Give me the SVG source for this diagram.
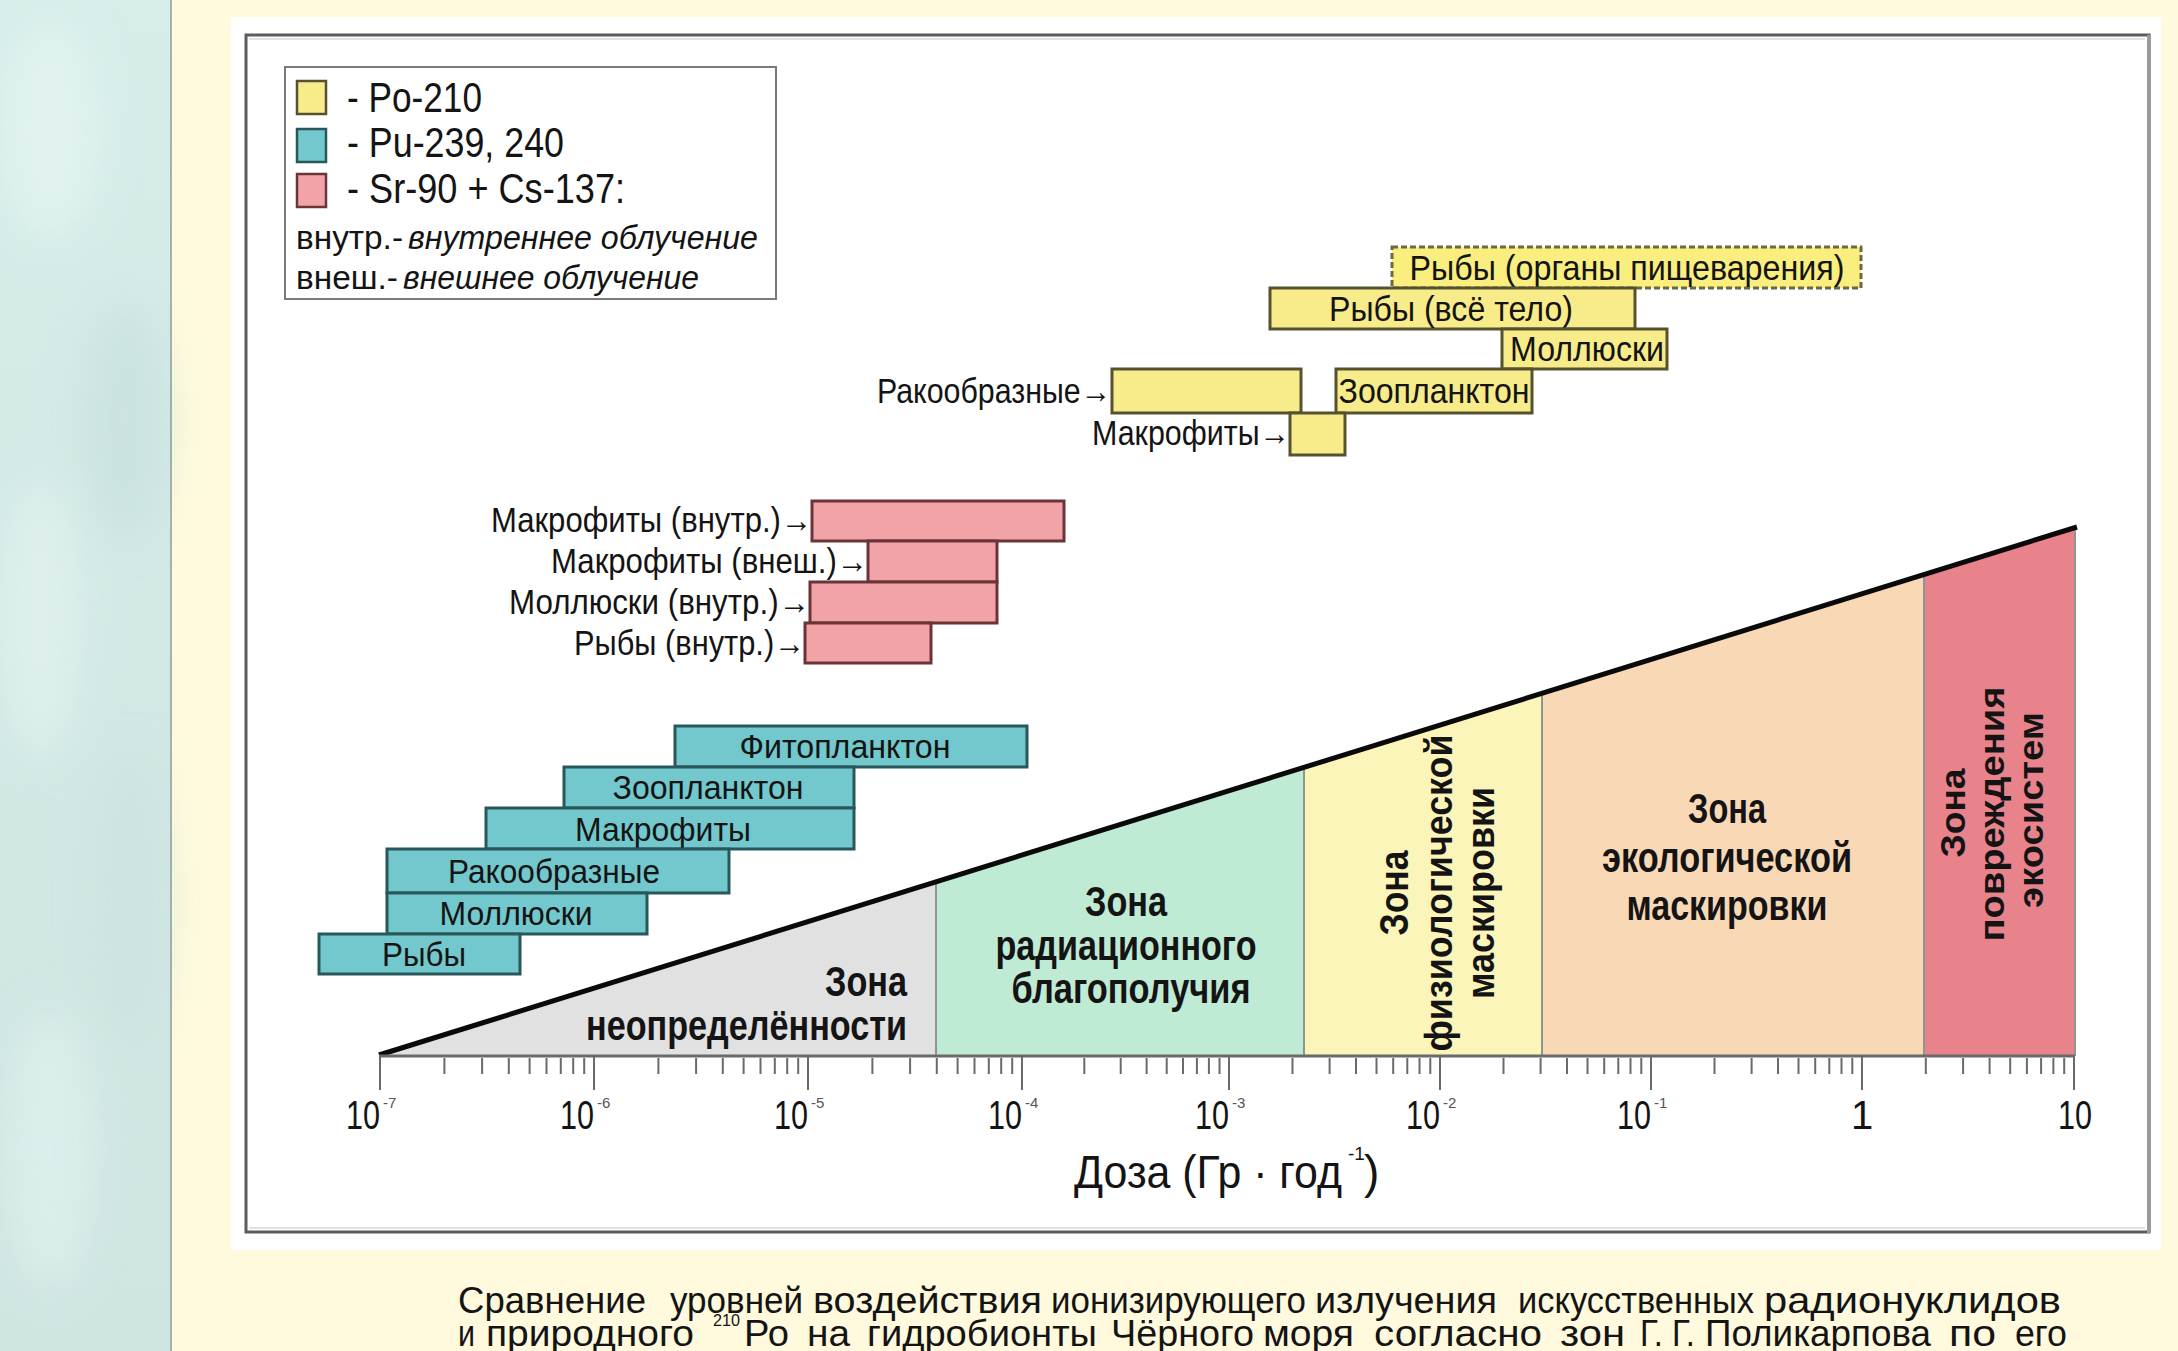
<svg xmlns="http://www.w3.org/2000/svg" width="2178" height="1351" viewBox="0 0 2178 1351">
<defs>
<style>
.t{font-family:"Liberation Sans",Arial,sans-serif;fill:#141414}
.b{font-weight:bold}
.i{font-style:italic}
.ybar{fill:#f8ec8a;stroke:#56522f;stroke-width:3}
.pbar{fill:#f1a3a8;stroke:#6c3436;stroke-width:3}
.cbar{fill:#72c8cd;stroke:#28585b;stroke-width:3}
.sep{stroke:#8f968f;stroke-width:2}
.tick{stroke:#6a6a6a;stroke-width:2;fill:none}
</style>
<linearGradient id="lp" x1="0" y1="0" x2="0" y2="1">
<stop offset="0" stop-color="#d6edea"/>
<stop offset="0.5" stop-color="#d1e8e5"/>
<stop offset="1" stop-color="#cfe5e2"/>
</linearGradient>
<filter id="blur" x="-50%" y="-50%" width="200%" height="200%"><feGaussianBlur stdDeviation="20"/></filter>
</defs>

<!-- background -->
<rect x="0" y="0" width="2178" height="1351" fill="#fffadd"/>
<g id="side-panel">
<rect x="0" y="0" width="171" height="1351" fill="url(#lp)"/>
<g filter="url(#blur)" opacity="0.7">
<ellipse cx="50" cy="130" rx="50" ry="110" fill="#e6f5f3"/>
<ellipse cx="125" cy="420" rx="40" ry="120" fill="#c8e0dd"/>
<ellipse cx="40" cy="620" rx="40" ry="140" fill="#e4f3f1"/>
<ellipse cx="130" cy="900" rx="35" ry="150" fill="#cae2df"/>
<ellipse cx="50" cy="1150" rx="45" ry="140" fill="#e0f1ef"/>
</g>
<line x1="171" y1="0" x2="171" y2="1351" stroke="#8c9c9a" stroke-width="1.5"/>
</g>

<!-- white frame and chart border -->
<rect x="231" y="17" width="1930" height="1233" fill="#ffffff"/>
<rect x="246" y="35" width="1903" height="1197" fill="#ffffff" stroke="#5c5c5c" stroke-width="3"/>
<path d="M249 39 H2145 M249 1228 H2145" stroke="#e2e2e2" stroke-width="2" fill="none"/>
<line x1="2149" y1="35" x2="2149" y2="1233" stroke="#9a9a9a" stroke-width="4"/>

<!-- legend -->
<g id="legend">
<rect x="285" y="67" width="491" height="232" fill="#ffffff" stroke="#7a7a7a" stroke-width="2"/>
<rect x="297" y="81" width="29" height="33" fill="#f8ec8a" stroke="#56522f" stroke-width="2.5"/>
<rect x="297" y="129" width="29" height="33" fill="#72c8cd" stroke="#28585b" stroke-width="2.5"/>
<rect x="297" y="174" width="29" height="33" fill="#f1a3a8" stroke="#6c3436" stroke-width="2.5"/>
<text class="t" x="347" y="112" font-size="43" textLength="135" lengthAdjust="spacingAndGlyphs">- Po-210</text>
<text class="t" x="347" y="157" font-size="43" textLength="217" lengthAdjust="spacingAndGlyphs">- Pu-239, 240</text>
<text class="t" x="347" y="203" font-size="43" textLength="278" lengthAdjust="spacingAndGlyphs">- Sr-90 + Cs-137:</text>
<text class="t" x="296" y="249" font-size="33" textLength="107" lengthAdjust="spacingAndGlyphs">внутр.-</text>
<text class="t i" x="408" y="249" font-size="33" textLength="350" lengthAdjust="spacingAndGlyphs">внутреннее облучение</text>
<text class="t" x="296" y="289" font-size="33" textLength="102" lengthAdjust="spacingAndGlyphs">внеш.-</text>
<text class="t i" x="403" y="289" font-size="33" textLength="296" lengthAdjust="spacingAndGlyphs">внешнее облучение</text>
</g>

<!-- zones -->
<g id="zones">
<polygon points="380,1056 936,883 936,1056" fill="#e1e1e1"/>
<polygon points="936,883 1304,768 1304,1056 936,1056" fill="#bfead4"/>
<polygon points="1304,768 1542,694 1542,1056 1304,1056" fill="#fbf5b9"/>
<polygon points="1542,694 1924,575 1924,1056 1542,1056" fill="#f9d8b6"/>
<polygon points="1924,575 2075,528 2075,1056 1924,1056" fill="#e8838c"/>
<line class="sep" x1="936" y1="883" x2="936" y2="1056"/>
<line class="sep" x1="1304" y1="768" x2="1304" y2="1056"/>
<line class="sep" x1="1542" y1="694" x2="1542" y2="1056"/>
<line class="sep" x1="1924" y1="575" x2="1924" y2="1056"/>
<line class="sep" x1="2075" y1="528" x2="2075" y2="1056"/>
<line x1="379" y1="1055" x2="2077" y2="527" stroke="#0a0a0a" stroke-width="5"/>
</g>

<g id="zone-uncertainty">
<text class="t b" x="907" y="996" font-size="42" text-anchor="end" textLength="82" lengthAdjust="spacingAndGlyphs">Зона</text>
<text class="t b" x="907" y="1040" font-size="42" text-anchor="end" textLength="321" lengthAdjust="spacingAndGlyphs">неопределённости</text>
</g>
<g id="zone-wellbeing">
<text class="t b" x="1126" y="916" font-size="42" text-anchor="middle" textLength="82" lengthAdjust="spacingAndGlyphs">Зона</text>
<text class="t b" x="1126" y="960" font-size="42" text-anchor="middle" textLength="261" lengthAdjust="spacingAndGlyphs">радиационного</text>
<text class="t b" x="1131" y="1003" font-size="42" text-anchor="middle" textLength="239" lengthAdjust="spacingAndGlyphs">благополучия</text>
</g>
<g id="zone-physiological">
<text class="t b" transform="translate(1408,893) rotate(-90)" x="0" y="0" font-size="41" text-anchor="middle" textLength="85" lengthAdjust="spacingAndGlyphs">Зона</text>
<text class="t b" transform="translate(1452,893) rotate(-90)" x="0" y="0" font-size="39" text-anchor="middle" textLength="317" lengthAdjust="spacingAndGlyphs">физиологической</text>
<text class="t b" transform="translate(1494,893) rotate(-90)" x="0" y="0" font-size="39" text-anchor="middle" textLength="212" lengthAdjust="spacingAndGlyphs">маскировки</text>
</g>
<g id="zone-ecological">
<text class="t b" x="1727" y="823" font-size="42" text-anchor="middle" textLength="78" lengthAdjust="spacingAndGlyphs">Зона</text>
<text class="t b" x="1727" y="872" font-size="42" text-anchor="middle" textLength="250" lengthAdjust="spacingAndGlyphs">экологической</text>
<text class="t b" x="1727" y="920" font-size="42" text-anchor="middle" textLength="201" lengthAdjust="spacingAndGlyphs">маскировки</text>
</g>
<g id="zone-damage">
<text class="t b" transform="translate(1965,813) rotate(-90)" x="0" y="0" font-size="35" text-anchor="middle" textLength="89" lengthAdjust="spacingAndGlyphs">Зона</text>
<text class="t b" transform="translate(2004,814) rotate(-90)" x="0" y="0" font-size="35" text-anchor="middle" textLength="255" lengthAdjust="spacingAndGlyphs">повреждения</text>
<text class="t b" transform="translate(2043,810) rotate(-90)" x="0" y="0" font-size="35" text-anchor="middle" textLength="196" lengthAdjust="spacingAndGlyphs">экосистем</text>
</g>

<!-- axis -->
<g id="axis">
<line x1="379" y1="1056" x2="2075" y2="1056" stroke="#6a6a6a" stroke-width="3"/>
<path class="tick" d="M380 1056V1090M594 1056V1090M808 1056V1090M1022 1056V1090M1229 1056V1090M1440 1056V1090M1651 1056V1090M1862 1056V1090M2074 1056V1090"/>
<path class="tick" d="M444.4 1058V1074M482.1 1058V1074M508.8 1058V1074M529.6 1058V1074M546.5 1058V1074M560.8 1058V1074M573.2 1058V1074M584.2 1058V1074
M658.4 1058V1074M696.1 1058V1074M722.8 1058V1074M743.6 1058V1074M760.5 1058V1074M774.8 1058V1074M787.2 1058V1074M798.2 1058V1074
M872.4 1058V1074M910.1 1058V1074M936.8 1058V1074M957.6 1058V1074M974.5 1058V1074M988.8 1058V1074M1001.2 1058V1074M1012.2 1058V1074
M1084.3 1058V1074M1120.7 1058V1074M1146.6 1058V1074M1166.7 1058V1074M1183 1058V1074M1196.9 1058V1074M1208.9 1058V1074M1219.5 1058V1074
M1292.5 1058V1074M1329.6 1058V1074M1356 1058V1074M1376.5 1058V1074M1393.2 1058V1074M1407.3 1058V1074M1419.5 1058V1074M1430.3 1058V1074
M1503.5 1058V1074M1540.6 1058V1074M1567 1058V1074M1587.5 1058V1074M1604.2 1058V1074M1618.3 1058V1074M1630.5 1058V1074M1641.3 1058V1074
M1714.5 1058V1074M1751.6 1058V1074M1778 1058V1074M1798.5 1058V1074M1815.2 1058V1074M1829.3 1058V1074M1841.5 1058V1074M1852.3 1058V1074
M1925.8 1058V1074M1963.1 1058V1074M1989.6 1058V1074M2010.2 1058V1074M2026.9 1058V1074M2041.1 1058V1074M2053.4 1058V1074M2064.2 1058V1074"/>
<g class="t" font-size="40">
<text x="380" y="1129" text-anchor="end" textLength="34" lengthAdjust="spacingAndGlyphs">10</text><text x="383" y="1108" font-size="15" fill="#555">-7</text>
<text x="594" y="1129" text-anchor="end" textLength="34" lengthAdjust="spacingAndGlyphs">10</text><text x="597" y="1108" font-size="15" fill="#555">-6</text>
<text x="808" y="1129" text-anchor="end" textLength="34" lengthAdjust="spacingAndGlyphs">10</text><text x="811" y="1108" font-size="15" fill="#555">-5</text>
<text x="1022" y="1129" text-anchor="end" textLength="34" lengthAdjust="spacingAndGlyphs">10</text><text x="1025" y="1108" font-size="15" fill="#555">-4</text>
<text x="1229" y="1129" text-anchor="end" textLength="34" lengthAdjust="spacingAndGlyphs">10</text><text x="1232" y="1108" font-size="15" fill="#555">-3</text>
<text x="1440" y="1129" text-anchor="end" textLength="34" lengthAdjust="spacingAndGlyphs">10</text><text x="1443" y="1108" font-size="15" fill="#555">-2</text>
<text x="1651" y="1129" text-anchor="end" textLength="34" lengthAdjust="spacingAndGlyphs">10</text><text x="1654" y="1108" font-size="15" fill="#555">-1</text>
<text x="1862" y="1129" text-anchor="middle">1</text>
<text x="2075" y="1129" text-anchor="middle" textLength="34" lengthAdjust="spacingAndGlyphs">10</text>
</g>
<text class="t" x="1074" y="1188" font-size="46" textLength="268" lengthAdjust="spacingAndGlyphs">Доза (Гр · год</text>
<text class="t" x="1348" y="1160" font-size="19">-1</text>
<text class="t" x="1364" y="1188" font-size="46">)</text>
</g>

<!-- Po-210 bars -->
<g id="po-fish-digestive">
<rect x="1392" y="247" width="469" height="41" fill="#f9ee7e" stroke="#6b6842" stroke-width="3" stroke-dasharray="6 3"/>
<text class="t" x="1627" y="280" font-size="35" text-anchor="middle" textLength="435" lengthAdjust="spacingAndGlyphs">Рыбы (органы пищеварения)</text>
</g>
<g id="po-fish-body">
<rect class="ybar" x="1270" y="288" width="365" height="41"/>
<text class="t" x="1451" y="321" font-size="35" text-anchor="middle" textLength="244" lengthAdjust="spacingAndGlyphs">Рыбы (всё тело)</text>
</g>
<g id="po-molluscs">
<rect class="ybar" x="1502" y="329" width="165" height="40"/>
<text class="t" x="1587" y="361" font-size="35" text-anchor="middle" textLength="154" lengthAdjust="spacingAndGlyphs">Моллюски</text>
</g>
<g id="po-crustaceans">
<rect class="ybar" x="1112" y="369" width="189" height="44"/>
<text class="t" x="1111" y="403" font-size="35" text-anchor="end" textLength="234" lengthAdjust="spacingAndGlyphs">Ракообразные→</text>
</g>
<g id="po-zooplankton">
<rect class="ybar" x="1336" y="369" width="196" height="44"/>
<text class="t" x="1434" y="403" font-size="35" text-anchor="middle" textLength="191" lengthAdjust="spacingAndGlyphs">Зоопланктон</text>
</g>
<g id="po-macrophytes">
<rect class="ybar" x="1290" y="413" width="55" height="42"/>
<text class="t" x="1290" y="445" font-size="35" text-anchor="end" textLength="198" lengthAdjust="spacingAndGlyphs">Макрофиты→</text>
</g>

<!-- Sr-90 + Cs-137 bars -->
<g id="sr-macrophytes-int">
<rect class="pbar" x="812" y="501" width="252" height="40"/>
<text class="t" x="812" y="532" font-size="35" text-anchor="end" textLength="321" lengthAdjust="spacingAndGlyphs">Макрофиты (внутр.)→</text>
</g>
<g id="sr-macrophytes-ext">
<rect class="pbar" x="868" y="541" width="129" height="41"/>
<text class="t" x="868" y="573" font-size="35" text-anchor="end" textLength="317" lengthAdjust="spacingAndGlyphs">Макрофиты (внеш.)→</text>
</g>
<g id="sr-molluscs-int">
<rect class="pbar" x="810" y="582" width="187" height="41"/>
<text class="t" x="810" y="614" font-size="35" text-anchor="end" textLength="301" lengthAdjust="spacingAndGlyphs">Моллюски (внутр.)→</text>
</g>
<g id="sr-fish-int">
<rect class="pbar" x="805" y="623" width="126" height="40"/>
<text class="t" x="805" y="655" font-size="35" text-anchor="end" textLength="231" lengthAdjust="spacingAndGlyphs">Рыбы (внутр.)→</text>
</g>

<!-- Pu-239, 240 bars -->
<g id="pu-phytoplankton">
<rect class="cbar" x="675" y="726" width="352" height="41"/>
<text class="t" x="845" y="758" font-size="34" text-anchor="middle" textLength="211" lengthAdjust="spacingAndGlyphs">Фитопланктон</text>
</g>
<g id="pu-zooplankton">
<rect class="cbar" x="564" y="767" width="290" height="41"/>
<text class="t" x="708" y="799" font-size="34" text-anchor="middle" textLength="191" lengthAdjust="spacingAndGlyphs">Зоопланктон</text>
</g>
<g id="pu-macrophytes">
<rect class="cbar" x="486" y="808" width="368" height="41"/>
<text class="t" x="663" y="841" font-size="34" text-anchor="middle" textLength="176" lengthAdjust="spacingAndGlyphs">Макрофиты</text>
</g>
<g id="pu-crustaceans">
<rect class="cbar" x="387" y="849" width="342" height="44"/>
<text class="t" x="554" y="883" font-size="34" text-anchor="middle" textLength="212" lengthAdjust="spacingAndGlyphs">Ракообразные</text>
</g>
<g id="pu-molluscs">
<rect class="cbar" x="387" y="893" width="260" height="41"/>
<text class="t" x="516" y="925" font-size="34" text-anchor="middle" textLength="153" lengthAdjust="spacingAndGlyphs">Моллюски</text>
</g>
<g id="pu-fish">
<rect class="cbar" x="319" y="934" width="201" height="40"/>
<text class="t" x="424" y="966" font-size="34" text-anchor="middle" textLength="84" lengthAdjust="spacingAndGlyphs">Рыбы</text>
</g>

<g id="connectors"></g>

<!-- caption -->
<g id="caption" class="t" font-size="36">
<text x="458" y="1313" textLength="188" lengthAdjust="spacingAndGlyphs">Сравнение</text>
<text x="670" y="1313" textLength="133" lengthAdjust="spacingAndGlyphs">уровней</text>
<text x="813" y="1313" textLength="229" lengthAdjust="spacingAndGlyphs">воздействия</text>
<text x="1051" y="1313" textLength="255" lengthAdjust="spacingAndGlyphs">ионизирующего</text>
<text x="1315" y="1313" textLength="182" lengthAdjust="spacingAndGlyphs">излучения</text>
<text x="1518" y="1313" textLength="236" lengthAdjust="spacingAndGlyphs">искусственных</text>
<text x="1764" y="1313" textLength="297" lengthAdjust="spacingAndGlyphs">радионуклидов</text>
<text x="458" y="1346" textLength="17" lengthAdjust="spacingAndGlyphs">и</text>
<text x="486" y="1346" textLength="208" lengthAdjust="spacingAndGlyphs">природного</text>
<text x="713" y="1326" font-size="17" textLength="27" lengthAdjust="spacingAndGlyphs">210</text>
<text x="744" y="1346" textLength="45" lengthAdjust="spacingAndGlyphs">Ро</text>
<text x="807" y="1346" textLength="43" lengthAdjust="spacingAndGlyphs">на</text>
<text x="867" y="1346" textLength="230" lengthAdjust="spacingAndGlyphs">гидробионты</text>
<text x="1111" y="1346" textLength="143" lengthAdjust="spacingAndGlyphs">Чёрного</text>
<text x="1263" y="1346" textLength="91" lengthAdjust="spacingAndGlyphs">моря</text>
<text x="1374" y="1346" textLength="168" lengthAdjust="spacingAndGlyphs">согласно</text>
<text x="1560" y="1346" textLength="65" lengthAdjust="spacingAndGlyphs">зон</text>
<text x="1640" y="1346" textLength="55" lengthAdjust="spacingAndGlyphs">Г. Г.</text>
<text x="1705" y="1346" textLength="226" lengthAdjust="spacingAndGlyphs">Поликарпова</text>
<text x="1949" y="1346" textLength="47" lengthAdjust="spacingAndGlyphs">по</text>
<text x="2015" y="1346" textLength="52" lengthAdjust="spacingAndGlyphs">его</text>
</g>
</svg>
